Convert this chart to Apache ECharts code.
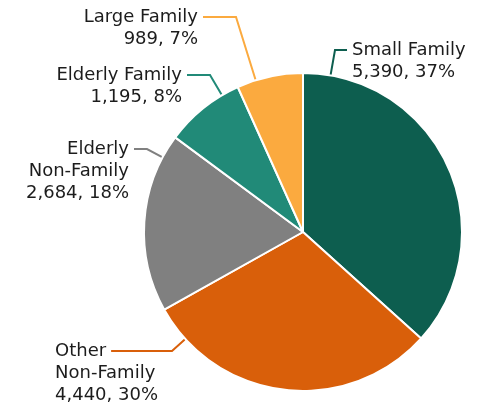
<!DOCTYPE html>
<html>
<head>
<meta charset="utf-8">
<script src="https://cdn.jsdelivr.net/npm/echarts@6/dist/echarts.min.js"></script>
<style>
html,body{margin:0;padding:0;background:#fff;}
#chart{width:495px;height:407px;}
</style>
</head>
<body>
<div id="chart"></div>
<script>
// ---- data ----
const categories = ['Small Family', 'Other Non-Family', 'Elderly Non-Family', 'Elderly Family', 'Large Family'];
const households = [5390, 4440, 2684, 1195, 989];
const labelNames = ['Small Family', 'Other\nNon-Family', 'Elderly\nNon-Family', 'Elderly Family', 'Large Family'];
const colors = ['#0d5e4f', '#d95f0a', '#808080', '#218a78', '#fbaa3f'];

// ---- layout (label placement only) ----
const FONT_SIZE = 18;
const FONT_FAMILY = 'DejaVu Sans';
const LINE_H = 22;
const CENTER = [303, 232];
const RADIUS = 159;
// textX: edge of the text block, lineY: centre of first text line, kneeX: where the guide line bends
const labelSpots = [
  { align: 'left',  textX: 352, lineY: 50,  kneeX: 335, lineFrom: 'left' },
  { align: 'left',  textX: 55,  lineY: 351, kneeX: 172, lineFrom: 'firstLineEnd' },
  { align: 'right', textX: 129, lineY: 149, kneeX: 147, lineFrom: 'right' },
  { align: 'right', textX: 182, lineY: 75,  kneeX: 210, lineFrom: 'right' },
  { align: 'right', textX: 198, lineY: 17,  kneeX: 236, lineFrom: 'right' }
];
const GAP = 5;

const total = households.reduce((a, b) => a + b, 0);
const measureCtx = document.createElement('canvas').getContext('2d');
measureCtx.font = FONT_SIZE + 'px "' + FONT_FAMILY + '"';

const chart = echarts.init(document.getElementById('chart'), null, { renderer: 'canvas' });

const seriesData = categories.map((c, i) => ({
  name: c,
  value: households[i],
  itemStyle: { color: colors[i] }
}));

chart.setOption({
  animation: false,
  series: [{
    type: 'pie',
    center: CENTER,
    radius: RADIUS,
    startAngle: 90,
    clockwise: true,
    avoidLabelOverlap: false,
    data: seriesData,
    itemStyle: { borderColor: '#ffffff', borderWidth: 2 },
    label: {
      show: true,
      position: 'outside',
      color: '#1c1c1c',
      fontFamily: FONT_FAMILY,
      fontSize: FONT_SIZE,
      lineHeight: LINE_H,
      formatter: function (p) {
        const pct = Math.round(p.value / total * 100);
        return labelNames[p.dataIndex] + '\n' + p.value.toLocaleString('en-US') + ', ' + pct + '%';
      }
    },
    labelLine: { show: true, lineStyle: { width: 2 } },
    labelLayout: function (params) {
      const s = labelSpots[params.dataIndex];
      let x0;
      if (s.lineFrom === 'left') x0 = s.textX - GAP;
      else if (s.lineFrom === 'right') x0 = s.textX + GAP;
      else {
        const first = labelNames[params.dataIndex].split('\n')[0];
        x0 = s.textX + measureCtx.measureText(first).width + GAP;
      }
      const knee = [s.kneeX, s.lineY];
      const dx = knee[0] - CENTER[0], dy = knee[1] - CENTER[1];
      const d = Math.sqrt(dx * dx + dy * dy);
      const onPie = [CENTER[0] + dx / d * RADIUS, CENTER[1] + dy / d * RADIUS];
      return {
        x: s.textX,
        y: s.lineY - LINE_H / 2,
        align: s.align,
        verticalAlign: 'top',
        labelLinePoints: [onPie, knee, [x0, s.lineY]]
      };
    }
  }]
});
</script>
</body>
</html>
